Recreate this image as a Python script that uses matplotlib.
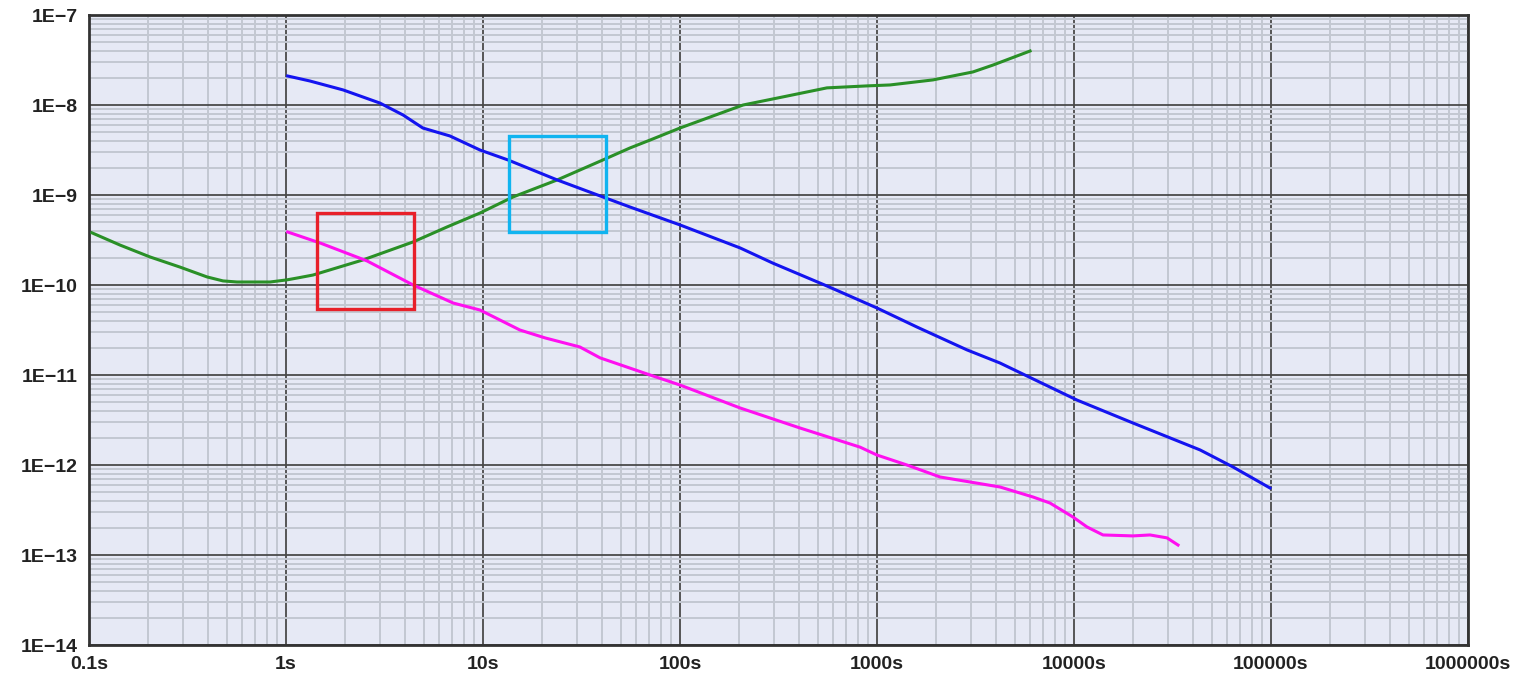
import matplotlib
matplotlib.use("Agg")
import matplotlib.pyplot as plt
from matplotlib.patches import Rectangle
from matplotlib.ticker import LogLocator, FixedLocator, NullFormatter

plt.rcParams['font.family'] = ['Liberation Sans', 'DejaVu Sans']

# ---- data (tau in seconds, deviation values) ----
green_t = [0.1035, 0.1436, 0.204, 0.290, 0.397, 0.479, 0.564, 0.830, 1.01, 1.15,
           1.37, 2.46, 4.42, 6.56, 9.66, 14.2, 23.8, 40.6, 55.7, 70.5, 100, 209,
           333, 557, 889, 1164, 1923, 3069, 3882, 5984]
green_v = [3.80e-10, 2.78e-10, 2.05e-10, 1.58e-10, 1.23e-10, 1.11e-10, 1.08e-10,
           1.08e-10, 1.14e-10, 1.20e-10, 1.29e-10, 1.90e-10, 3.01e-10, 4.41e-10,
           6.31e-10, 9.51e-10, 1.47e-9, 2.45e-9, 3.33e-9, 4.08e-9, 5.55e-9,
           1.0e-8, 1.23e-8, 1.55e-8, 1.63e-8, 1.67e-8, 1.90e-8, 2.33e-8, 2.78e-8,
           3.98e-8]

blue_t = [1.02, 1.32, 1.95, 3.0, 3.93, 4.95, 6.79, 9.66, 13.4, 23.8, 40.6, 55.7,
          100, 202, 296, 557, 1000, 1596, 2864, 4207, 10350, 19910, 43650, 64120,
          98850]
blue_v = [2.10e-8, 1.85e-8, 1.47e-8, 1.05e-8, 7.74e-9, 5.55e-9, 4.53e-9, 3.16e-9,
          2.45e-9, 1.47e-9, 9.51e-10, 7.36e-10, 4.65e-10, 2.58e-10, 1.75e-10,
          9.75e-11, 5.55e-11, 3.41e-11, 1.90e-11, 1.36e-11, 5.27e-12, 2.93e-12,
          1.47e-12, 9.51e-13, 5.55e-13]

magenta_t = [1.02, 1.49, 2.58, 4.42, 7.05, 9.66, 12.2, 15.4, 20.7, 31.0, 39.3,
             70.5, 100, 202, 406, 820, 1000, 1419, 2089, 4207, 6194, 7551, 9886,
             11640, 14030, 19910, 24320, 29650, 33730]
magenta_v = [3.88e-10, 2.93e-10, 1.85e-10, 1.0e-10, 6.31e-11, 5.27e-11, 4.08e-11,
             3.16e-11, 2.58e-11, 2.05e-11, 1.55e-11, 1.0e-11, 7.74e-12, 4.30e-12,
             2.58e-12, 1.58e-12, 1.29e-12, 1.0e-12, 7.36e-13, 5.70e-13, 4.41e-13,
             3.78e-13, 2.64e-13, 2.05e-13, 1.67e-13, 1.63e-13, 1.67e-13, 1.55e-13,
             1.29e-13]

x_ticks = [0.1, 1, 10, 100, 1000, 10000, 100000, 1000000]
x_labels = ["0.1s", "1s", "10s", "100s", "1000s", "10000s", "100000s", "1000000s"]
y_ticks = [1e-14, 1e-13, 1e-12, 1e-11, 1e-10, 1e-9, 1e-8, 1e-7]
y_labels = ["1E\u221214", "1E\u221213", "1E\u221212", "1E\u221211", "1E\u221210",
            "1E\u22129", "1E\u22128", "1E\u22127"]

# highlight boxes: (x0, x1, y0, y1)
red_box = (1.436, 4.47, 5.4e-11, 6.3e-10)
cyan_box = (13.5, 42.1, 3.88e-10, 4.53e-9)

fig = plt.figure(figsize=(15.14, 6.75), dpi=100)
ax = fig.add_axes([89 / 1514, 1 - 645 / 675, (1468 - 89) / 1514, (645 - 15) / 675])
ax.set_facecolor("#E6E9F5")
ax.set_xscale("log")
ax.set_yscale("log")
ax.set_xlim(0.1, 1e6)
ax.set_ylim(1e-14, 1e-7)

ax.xaxis.set_major_locator(FixedLocator(x_ticks))
ax.yaxis.set_major_locator(FixedLocator(y_ticks))
ax.xaxis.set_minor_locator(LogLocator(base=10, subs=range(2, 10), numticks=50))
ax.yaxis.set_minor_locator(LogLocator(base=10, subs=range(2, 10), numticks=50))
ax.xaxis.set_minor_formatter(NullFormatter())
ax.yaxis.set_minor_formatter(NullFormatter())
ax.set_xticklabels(x_labels)
ax.set_yticklabels(y_labels)

ax.grid(which="minor", color="#C3C8D2", linewidth=1.4)
ax.grid(which="major", color="#4A4A4A", linewidth=1.3)
ax.set_axisbelow(True)
ax.tick_params(which="both", length=0)
ax.tick_params(axis="x", pad=8, labelsize=14, labelcolor="#222222")
ax.tick_params(axis="y", pad=8, labelsize=14, labelcolor="#222222")
for lbl in ax.get_xticklabels() + ax.get_yticklabels():
    lbl.set_fontweight("bold")
for sp in ax.spines.values():
    sp.set_color("#333333")
    sp.set_linewidth(2.0)

ax.plot(green_t, green_v, color="#2A9027", lw=2.2, zorder=3)
ax.plot(blue_t, blue_v, color="#1414F0", lw=2.2, zorder=3)
ax.plot(magenta_t, magenta_v, color="#FF10F0", lw=2.2, zorder=3)

for (x0, x1, y0, y1), col in [(red_box, "#E8202A"), (cyan_box, "#10B4F0")]:
    ax.add_patch(Rectangle((x0, y0), x1 - x0, y1 - y0, fill=False,
                           edgecolor=col, linewidth=2.4, zorder=4))

fig.savefig("out.png", dpi=100)
